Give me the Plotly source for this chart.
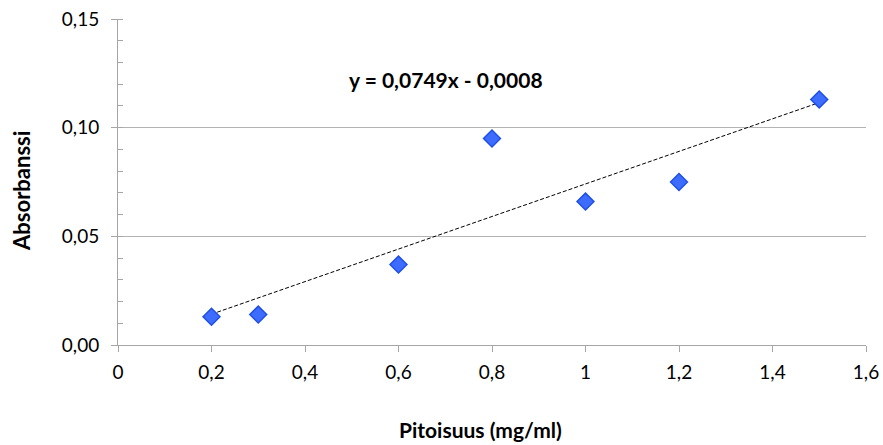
import plotly.graph_objects as go

# Measured concentrations (mg/ml) and absorbances
pitoisuus = [0.2, 0.3, 0.6, 0.8, 1.0, 1.2, 1.5]
absorbanssi = [0.013, 0.014, 0.037, 0.095, 0.066, 0.075, 0.113]

# Linear trend line parameters shown in the equation label
slope = 0.0749
intercept = -0.0008
trend_x = [min(pitoisuus), max(pitoisuus)]
trend_y = [slope * x + intercept for x in trend_x]

x_ticks = [0, 0.2, 0.4, 0.6, 0.8, 1.0, 1.2, 1.4, 1.6]
y_ticks = [0.0, 0.05, 0.10, 0.15]

FONT = "Lato"
AXIS_GREY = "#a6a6a6"
GRID_GREY = "#b3b3b3"

fig = go.Figure()

fig.add_trace(go.Scatter(
    x=trend_x, y=trend_y, mode="lines",
    line=dict(color="black", width=1, dash="4px,2px"),
    hoverinfo="skip", showlegend=False,
))

fig.add_trace(go.Scatter(
    x=pitoisuus, y=absorbanssi, mode="markers",
    marker=dict(symbol="diamond", size=13, color="#3d6cff",
                line=dict(color="#1f4fe6", width=1.5)),
    showlegend=False,
))

fig.update_layout(
    width=883, height=445,
    margin=dict(l=118, r=17, t=19, b=100),
    paper_bgcolor="white", plot_bgcolor="white",
    separators=", ",
    font=dict(family=FONT, size=19, color="black"),
    annotations=[
        dict(text="<b>y = 0,0749x - 0,0008</b>", x=0.7016, y=0.122,
             xref="x", yref="y", showarrow=False,
             xanchor="center", yanchor="middle",
             font=dict(size=21, family=FONT)),
        dict(text="<b>Pitoisuus (mg/ml)</b>", x=0.484, y=-0.258,
             xref="paper", yref="paper", showarrow=False,
             xanchor="center", yanchor="middle", borderpad=0,
             font=dict(size=21, family=FONT)),
        dict(text="<b>Absorbanssi</b>", x=-0.13, y=0.472,
             xref="paper", yref="paper", showarrow=False, textangle=-90,
             xanchor="center", yanchor="middle",
             font=dict(size=22, family=FONT)),
    ],
)

fig.update_xaxes(
    range=[0, 1.6], tickvals=x_ticks, automargin=False,
    showgrid=False, zeroline=False,
    showline=True, linecolor=AXIS_GREY, linewidth=1,
    ticks="outside", ticklen=6, tickcolor=AXIS_GREY,
    ticklabelstandoff=4,
    tickfont=dict(size=19), fixedrange=True,
)
fig.update_yaxes(
    range=[0, 0.15], tickvals=y_ticks, tickformat=".2f", automargin=False,
    showgrid=True, gridcolor=GRID_GREY, gridwidth=1, zeroline=False,
    showline=True, linecolor=AXIS_GREY, linewidth=1,
    ticks="outside", ticklen=6, tickcolor=AXIS_GREY,
    ticklabelstandoff=8,
    minor=dict(dtick=0.01, ticks="inside", ticklen=5, tickcolor=AXIS_GREY,
               showgrid=False),
    tickfont=dict(size=19), fixedrange=True,
)

fig.write_html("out.html")
